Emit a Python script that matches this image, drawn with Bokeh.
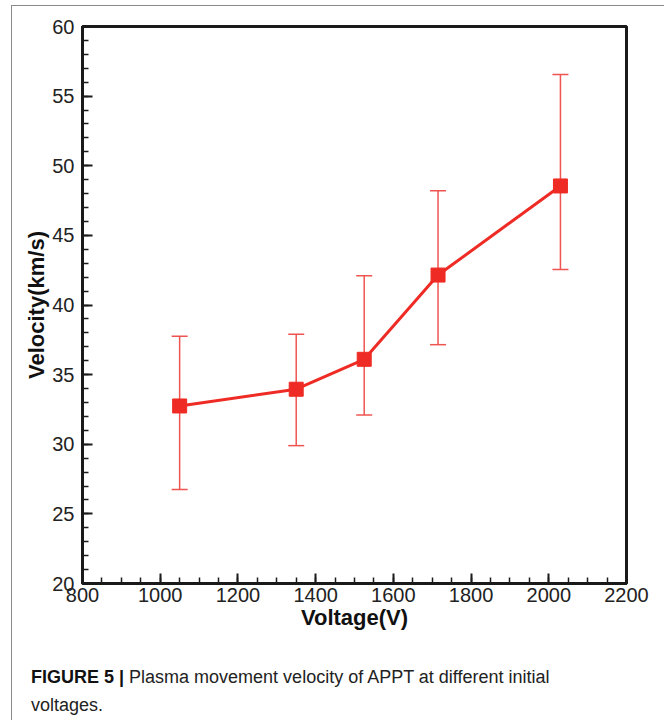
from bokeh.plotting import figure
from bokeh.layouts import column
from bokeh.models import (ColumnDataSource, Whisker, TeeHead, Range1d, SingleIntervalTicker, Div)
from bokeh.embed import file_html
from bokeh.resources import INLINE

# ---- data ----
voltage = [1050, 1350, 1525, 1715, 2030]
velocity = [32.75, 33.95, 36.1, 42.15, 48.55]
vel_upper = [37.75, 37.9, 42.1, 48.2, 56.55]
vel_lower = [26.75, 29.9, 32.1, 37.15, 42.55]

x_title = "Voltage(V)"
y_title = "Velocity(km/s)"
caption_bold = "FIGURE 5 |"
caption_line1 = "Plasma movement velocity of APPT at different initial"
caption_line2 = "voltages."

RED = "#ee2b24"
ERR = "#ef5550"
FONT = "Liberation Sans"

src = ColumnDataSource(dict(x=voltage, y=velocity, upper=vel_upper, lower=vel_lower))

p = figure(width=648, height=645, output_backend="svg", toolbar_location=None,
           x_range=Range1d(800, 2200), y_range=Range1d(20, 60),
           min_border_left=70, min_border_right=34, min_border_top=20, min_border_bottom=68)

p.background_fill_color = "white"
p.border_fill_color = "white"
p.xgrid.visible = False
p.ygrid.visible = False
p.outline_line_color = "#1a1a1a"
p.outline_line_width = 3

p.xaxis.ticker = SingleIntervalTicker(interval=200, num_minor_ticks=4)
p.yaxis.ticker = SingleIntervalTicker(interval=5, num_minor_ticks=5)

for ax in (p.xaxis[0], p.yaxis[0]):
    ax.axis_line_color = "#1a1a1a"
    ax.axis_line_width = 3
    ax.major_tick_in = 10
    ax.major_tick_out = 0
    ax.minor_tick_in = 6
    ax.minor_tick_out = 0
    ax.major_tick_line_width = 2
    ax.minor_tick_line_width = 1.5
    ax.major_tick_line_color = "#1a1a1a"
    ax.minor_tick_line_color = "#1a1a1a"
    ax.major_label_text_font = FONT
    ax.major_label_text_font_size = "20px"
    ax.major_label_text_color = "#222222"
    ax.axis_label_text_font = FONT
    ax.axis_label_text_font_size = "22px"
    ax.axis_label_text_font_style = "bold"
    ax.axis_label_text_color = "#111111"

p.xaxis.axis_label = x_title
p.yaxis.axis_label = y_title
p.xaxis.major_label_standoff = 4
p.yaxis.major_label_standoff = 8
p.xaxis.axis_label_standoff = 0
p.yaxis.axis_label_standoff = 0

# error bars
wh = Whisker(base="x", upper="upper", lower="lower", source=src,
             line_color=ERR, line_width=1.5,
             upper_head=TeeHead(size=16, line_color=ERR, line_width=1.5),
             lower_head=TeeHead(size=16, line_color=ERR, line_width=1.5))
p.add_layout(wh)

p.line("x", "y", source=src, line_color=RED, line_width=3)
p.scatter("x", "y", source=src, marker="square", size=14, fill_color=RED, line_color=RED)

caption_html = (
    '<div style="font-family: \'Liberation Sans\', Arial, sans-serif; font-size: 18px; '
    'line-height: 28px; color: #222; padding: 7px 0 0 14px; white-space: nowrap;">'
    f'<b style="color:#111">{caption_bold}</b> {caption_line1}<br>{caption_line2}</div>'
)
cap = Div(text=caption_html, width=648, height=68)

layout = column(p, cap, margin=(5, 0, 0, 11), spacing=0,
                styles={"border-top": "1.5px solid #8a8a8a",
                        "border-left": "1.5px solid #8a8a8a",
                        "border-right": "1.5px solid #8a8a8a",
                        "background": "white"})

open("out.html", "w").write(file_html(layout, INLINE))
